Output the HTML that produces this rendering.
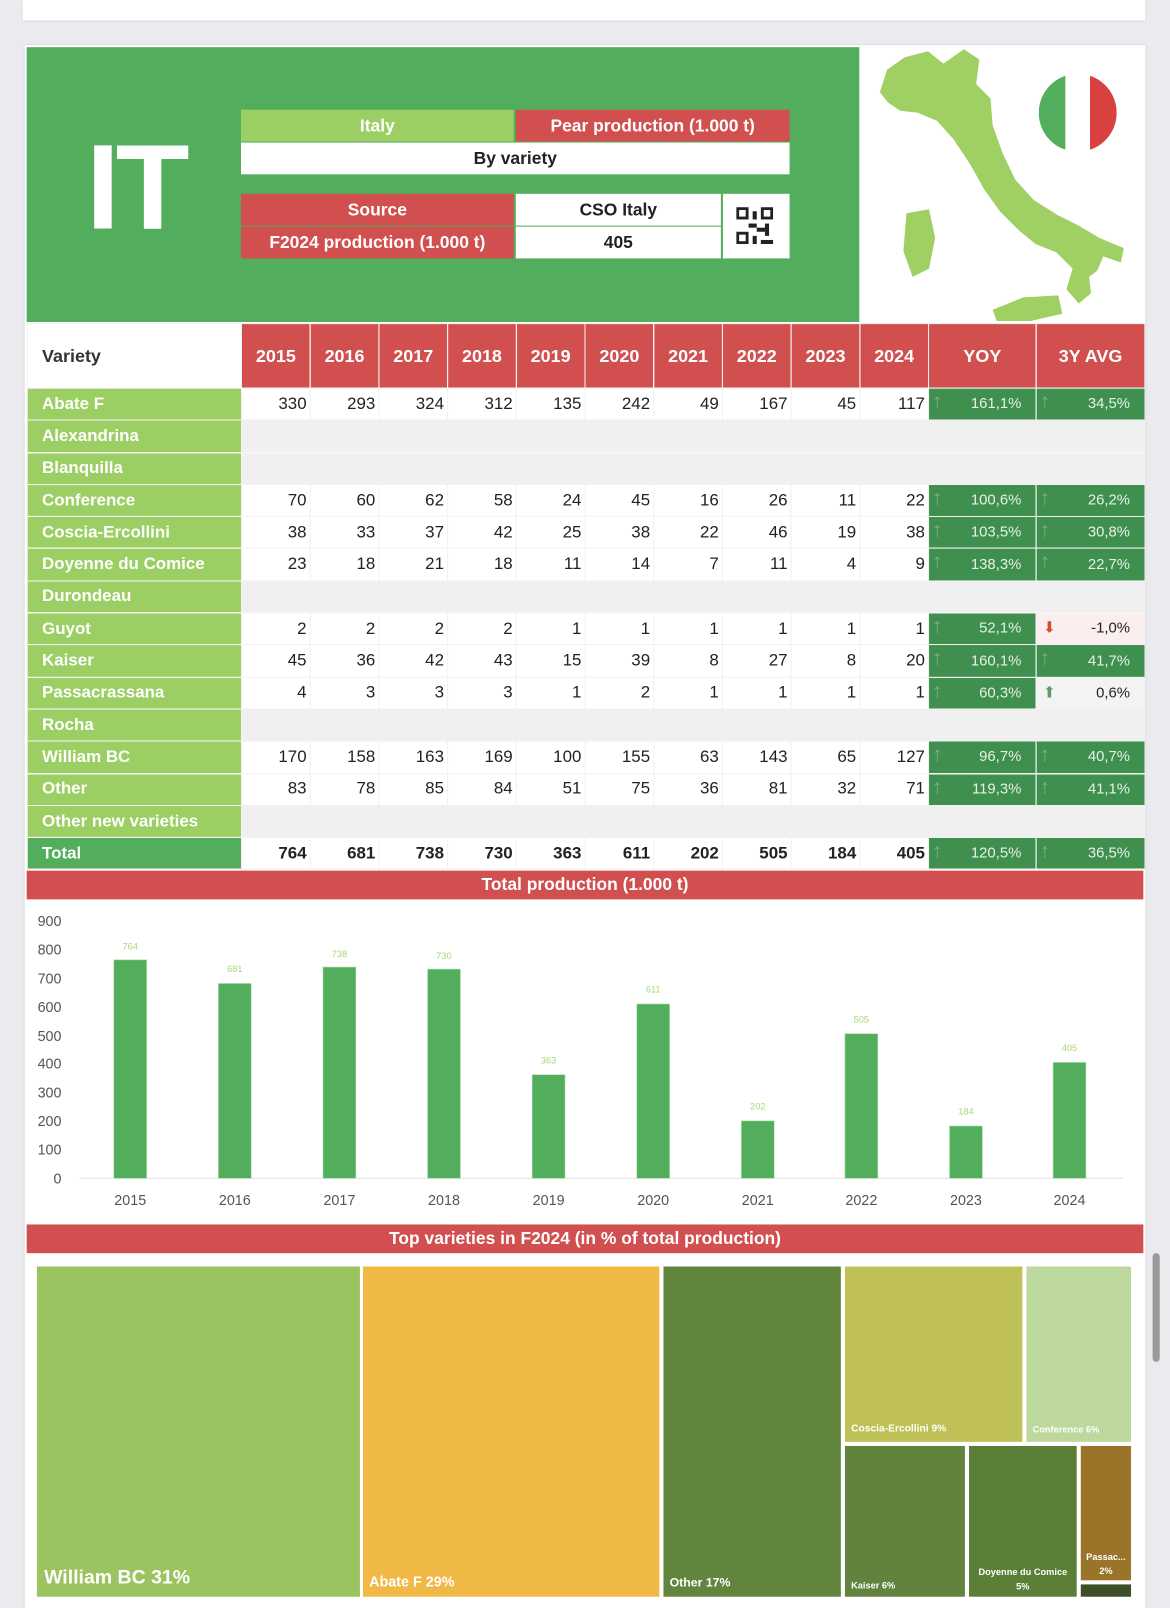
<!DOCTYPE html>
<html><head><meta charset="utf-8"><style>
*{margin:0;padding:0;box-sizing:border-box}
html,body{width:1170px;height:1608px;overflow:hidden;background:#ebebef;font-family:"Liberation Sans",sans-serif}
#w{position:absolute;left:0;top:0;width:1141px;height:1568px;transform:scale(1.02542,1.02551);transform-origin:0 0}
.a{position:absolute}
.c{display:flex;align-items:center;justify-content:center;font-size:17px}
.r{background:#d14f4f;color:#fff;font-weight:bold}
.lg{background:#9ccf63;color:#fff;font-weight:bold}
.wh{background:#fff;color:#222}
table{position:absolute;left:26px;top:315px;width:1090px;border-collapse:collapse;table-layout:fixed;font-size:16.5px}
td,th{border:1.5px solid #f1f1f1;padding:0 3px;height:31.3px;text-align:right;color:#222;background:#fff;white-space:nowrap;overflow:hidden}
th{height:63px;background:#d14f4f;color:#fff;font-weight:bold;text-align:center;font-size:17.5px}
th.v{background:#fff;color:#333;text-align:left;padding-left:14px}
td.n{background:#9ccf63;color:#fff;font-weight:bold;text-align:left;padding-left:14px}
tr.e td{background:#f0f0f0}
tr.e td.n{background:#9ccf63}
td.g{background:#3f8f4f;color:#e6f2e6;font-size:14.5px;position:relative;padding-right:14px}
td.g::before{content:"\2191";position:absolute;left:3px;top:2px;color:#86a98f;font-weight:bold;font-size:20px}
td.p{background:#fbeeee;font-size:14.5px;position:relative;padding-right:14px}
td.p::before{content:"\2B07";position:absolute;left:6px;top:5px;color:#d0502d;font-size:15px}
td.q{background:#f3f3f3;font-size:14.5px;position:relative;padding-right:14px}
td.q::before{content:"\2B06";position:absolute;left:6px;top:5px;color:#5d9a72;font-size:15px}
tr.t td{font-weight:bold}
tr.t td.n{background:#52ad5c;font-weight:bold}
tr.t td.g{font-weight:normal}
.tm{position:absolute;color:#fff;font-weight:bold}
</style></head><body><div id="w">
<div class="a" style="left:22px;top:0;width:1095px;height:20px;background:#fff;box-shadow:0 1px 2px #ccc"></div>
<div class="a" style="left:24px;top:44px;width:1093px;height:1524px;background:#fff;box-shadow:0 0 2px #ccc"></div>
<div class="a" style="left:26px;top:46px;width:812px;height:268px;background:#52ad5c"></div>
<div class="a" style="left:84px;top:118px;font-size:118px;font-weight:bold;color:#fff;letter-spacing:-4px;line-height:130px">IT</div>
<div class="a c lg" style="left:235px;top:107px;width:266px;height:31px;font-weight:bold">Italy</div>
<div class="a c r" style="left:503px;top:107px;width:267px;height:31px">Pear production (1.000 t)</div>
<div class="a c wh" style="left:235px;top:139px;width:535px;height:31px;font-weight:bold">By variety</div>
<div class="a c r" style="left:235px;top:189px;width:266px;height:31px">Source</div>
<div class="a c wh" style="left:503px;top:189px;width:200px;height:31px;font-weight:bold">CSO Italy</div>
<div class="a c r" style="left:235px;top:221px;width:266px;height:31px">F2024 production (1.000 t)</div>
<div class="a c wh" style="left:503px;top:221px;width:200px;height:31px;font-weight:bold">405</div>
<div class="a wh" style="left:705px;top:189px;width:65px;height:63px"></div>
<svg class="a" style="left:718px;top:202px" width="36" height="36" viewBox="0 0 9 9"><g fill="#222"><rect x="0" y="0" width="3" height="3"/><rect x="6" y="0" width="3" height="3"/><rect x="0" y="6" width="3" height="3"/><rect x="4" y="1" width="1" height="2"/><rect x="3" y="4" width="2" height="1"/><rect x="5" y="5" width="2" height="1"/><rect x="4" y="7" width="1" height="2"/><rect x="7" y="4" width="1" height="3"/><rect x="6" y="8" width="3" height="1"/></g><g fill="#fff"><rect x=".7" y=".7" width="1.6" height="1.6"/><rect x="6.7" y=".7" width="1.6" height="1.6"/><rect x=".7" y="6.7" width="1.6" height="1.6"/></g></svg>
<svg class="a" style="left:838px;top:46px" width="278" height="268" viewBox="838 46 278 268">
<path fill="#a0d064" d="M858 90 L865 68 L882 56 L905 50 L920 62 L940 48 L955 58 L952 82 L966 96 L968 122 L978 150 L990 175 L1008 195 L1032 210 L1052 220 L1072 232 L1096 242 L1093 256 L1076 250 L1070 264 L1062 270 L1064 286 L1052 296 L1040 282 L1046 262 L1030 246 L1010 238 L994 225 L975 206 L960 185 L946 160 L930 136 L914 118 L895 110 L878 108 L866 100 Z"/>
<path fill="#a0d064" d="M884 208 L906 204 L912 232 L906 262 L890 270 L881 245 Z"/>
<path fill="#a0d064" d="M968 302 L998 290 L1032 288 L1036 306 L1005 313 L972 313 Z"/>
<clipPath id="cf"><circle cx="1051" cy="110" r="38"/></clipPath>
<g clip-path="url(#cf)"><rect x="1013" y="70" width="26" height="80" fill="#52ad5c"/><rect x="1039" y="70" width="24" height="80" fill="#fff"/><rect x="1063" y="70" width="26" height="80" fill="#d94040"/></g>
</svg>
<table>
<colgroup><col style="width:209px"><col span="10" style="width:67px"><col style="width:105px"><col style="width:106px"></colgroup>
<tr><th class="v">Variety</th><th>2015</th><th>2016</th><th>2017</th><th>2018</th><th>2019</th><th>2020</th><th>2021</th><th>2022</th><th>2023</th><th>2024</th><th>YOY</th><th>3Y AVG</th></tr>
<tr><td class="n">Abate F</td><td>330</td><td>293</td><td>324</td><td>312</td><td>135</td><td>242</td><td>49</td><td>167</td><td>45</td><td>117</td><td class="g">161,1%</td><td class="g">34,5%</td></tr>
<tr class="e"><td class="n">Alexandrina</td><td colspan="12"></td></tr>
<tr class="e"><td class="n">Blanquilla</td><td colspan="12"></td></tr>
<tr><td class="n">Conference</td><td>70</td><td>60</td><td>62</td><td>58</td><td>24</td><td>45</td><td>16</td><td>26</td><td>11</td><td>22</td><td class="g">100,6%</td><td class="g">26,2%</td></tr>
<tr><td class="n">Coscia-Ercollini</td><td>38</td><td>33</td><td>37</td><td>42</td><td>25</td><td>38</td><td>22</td><td>46</td><td>19</td><td>38</td><td class="g">103,5%</td><td class="g">30,8%</td></tr>
<tr><td class="n">Doyenne du Comice</td><td>23</td><td>18</td><td>21</td><td>18</td><td>11</td><td>14</td><td>7</td><td>11</td><td>4</td><td>9</td><td class="g">138,3%</td><td class="g">22,7%</td></tr>
<tr class="e"><td class="n">Durondeau</td><td colspan="12"></td></tr>
<tr><td class="n">Guyot</td><td>2</td><td>2</td><td>2</td><td>2</td><td>1</td><td>1</td><td>1</td><td>1</td><td>1</td><td>1</td><td class="g">52,1%</td><td class="p">-1,0%</td></tr>
<tr><td class="n">Kaiser</td><td>45</td><td>36</td><td>42</td><td>43</td><td>15</td><td>39</td><td>8</td><td>27</td><td>8</td><td>20</td><td class="g">160,1%</td><td class="g">41,7%</td></tr>
<tr><td class="n">Passacrassana</td><td>4</td><td>3</td><td>3</td><td>3</td><td>1</td><td>2</td><td>1</td><td>1</td><td>1</td><td>1</td><td class="g">60,3%</td><td class="q">0,6%</td></tr>
<tr class="e"><td class="n">Rocha</td><td colspan="12"></td></tr>
<tr><td class="n">William BC</td><td>170</td><td>158</td><td>163</td><td>169</td><td>100</td><td>155</td><td>63</td><td>143</td><td>65</td><td>127</td><td class="g">96,7%</td><td class="g">40,7%</td></tr>
<tr><td class="n">Other</td><td>83</td><td>78</td><td>85</td><td>84</td><td>51</td><td>75</td><td>36</td><td>81</td><td>32</td><td>71</td><td class="g">119,3%</td><td class="g">41,1%</td></tr>
<tr class="e"><td class="n">Other new varieties</td><td colspan="12"></td></tr>
<tr class="t"><td class="n">Total</td><td>764</td><td>681</td><td>738</td><td>730</td><td>363</td><td>611</td><td>202</td><td>505</td><td>184</td><td>405</td><td class="g">120,5%</td><td class="g">36,5%</td></tr>
</table>
<div class="a c r" style="left:26px;top:849px;width:1089px;height:28px">Total production (1.000 t)</div>
<svg class="a" style="left:0;top:880px" width="1141" height="310" viewBox="0 880 1141 310" font-family="Liberation Sans, sans-serif">
<g fill="#555" font-size="14" text-anchor="end"><text x="60" y="903">900</text><text x="60" y="931">800</text><text x="60" y="959">700</text><text x="60" y="987">600</text><text x="60" y="1015">500</text><text x="60" y="1042">400</text><text x="60" y="1070">300</text><text x="60" y="1098">200</text><text x="60" y="1126">100</text><text x="60" y="1154">0</text></g>
<line x1="77" y1="1149" x2="1095" y2="1149" stroke="#e6e6e6"/>
<g fill="#52ad5c" stroke="#a8dca8" stroke-width=".6">
<rect x="111" y="936" width="32" height="213"/><rect x="213" y="959" width="32" height="190"/><rect x="315" y="943" width="32" height="206"/><rect x="417" y="945" width="32" height="204"/><rect x="519" y="1048" width="32" height="101"/><rect x="621" y="979" width="32" height="170"/><rect x="723" y="1093" width="32" height="56"/><rect x="824" y="1008" width="32" height="141"/><rect x="926" y="1098" width="32" height="51"/><rect x="1027" y="1036" width="32" height="113"/></g>
<g fill="#a8d878" font-size="9" text-anchor="middle"><text x="127" y="926">764</text><text x="229" y="948">681</text><text x="331" y="933">738</text><text x="433" y="935">730</text><text x="535" y="1037">363</text><text x="637" y="968">611</text><text x="739" y="1082">202</text><text x="840" y="997">505</text><text x="942" y="1087">184</text><text x="1043" y="1025">405</text></g>
<g fill="#555" font-size="14" text-anchor="middle"><text x="127" y="1175">2015</text><text x="229" y="1175">2016</text><text x="331" y="1175">2017</text><text x="433" y="1175">2018</text><text x="535" y="1175">2019</text><text x="637" y="1175">2020</text><text x="739" y="1175">2021</text><text x="840" y="1175">2022</text><text x="942" y="1175">2023</text><text x="1043" y="1175">2024</text></g>
</svg>
<div class="a c r" style="left:26px;top:1194px;width:1089px;height:28px">Top varieties in F2024 (in % of total production)</div>
<div class="a" style="left:36px;top:1235px;width:315px;height:322px;background:#9bc35f"></div>
<div class="tm" style="left:43px;top:1528px;font-size:19px">William BC 31%</div>
<div class="a" style="left:354px;top:1235px;width:289px;height:322px;background:#f0b946"></div>
<div class="tm" style="left:360px;top:1534px;font-size:14px">Abate F 29%</div>
<div class="a" style="left:647px;top:1235px;width:173px;height:322px;background:#62853e"></div>
<div class="tm" style="left:653px;top:1536px;font-size:12px">Other 17%</div>
<div class="a" style="left:824px;top:1235px;width:173px;height:171px;background:#bfc055"></div>
<div class="tm" style="left:830px;top:1388px;font-size:10px">Coscia-Ercollini 9%</div>
<div class="a" style="left:1001px;top:1235px;width:102px;height:171px;background:#bcd89c"></div>
<div class="tm" style="left:1007px;top:1389px;font-size:9px">Conference 6%</div>
<div class="a" style="left:824px;top:1410px;width:117px;height:147px;background:#61833d"></div>
<div class="tm" style="left:830px;top:1541px;font-size:9px">Kaiser 6%</div>
<div class="a" style="left:945px;top:1410px;width:105px;height:147px;background:#5c7f37"></div>
<div class="tm" style="left:945px;top:1526px;width:105px;font-size:9px;text-align:center;line-height:14px">Doyenne du Comice<br>5%</div>
<div class="a" style="left:1054px;top:1410px;width:49px;height:131px;background:#9a7429"></div>
<div class="tm" style="left:1054px;top:1511px;width:49px;font-size:9px;text-align:center;line-height:14px">Passac...<br>2%</div>
<div class="a" style="left:1054px;top:1545px;width:49px;height:12px;background:#3b4e26"></div>
<div class="a" style="left:1124px;top:1222px;width:7px;height:106px;border-radius:4px;background:#9a9a9a"></div>
</div></body></html>
